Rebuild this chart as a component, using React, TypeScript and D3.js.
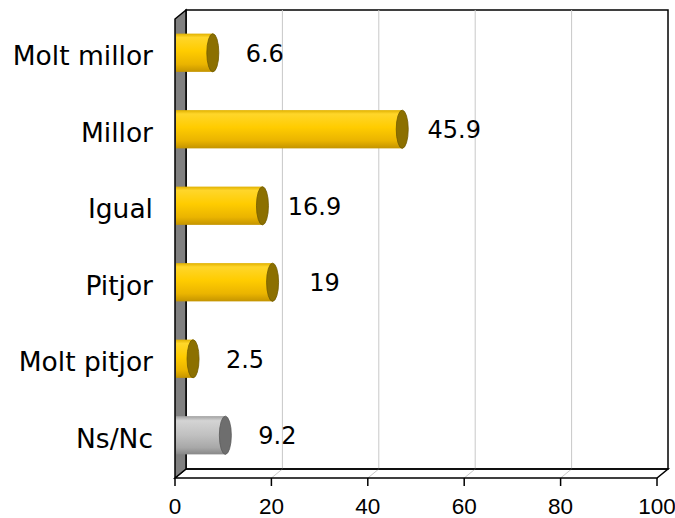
import * as React from "react";
import * as d3 from "d3";

const categories = ["Molt millor", "Millor", "Igual", "Pitjor", "Molt pitjor", "Ns/Nc"];
const values = [6.6, 45.9, 16.9, 19, 2.5, 9.2];
const tickValues = [0, 20, 40, 60, 80, 100];
const gridValues = [20, 40, 60, 80];

function drawChart(svgRef: React.RefObject<SVGSVGElement>) {
  const w = 675;
  const h = 518;
  const svg = d3.select(svgRef.current);
  svg.selectAll("*").remove();
  svg.attr("width", w).attr("height", h);

  // front plane + depth offset
  const x0 = 175;
  const x1 = 657;
  const yTop = 19;
  const yBot = 478;
  const dx = 11;
  const dy = -9;

  const x = d3.scaleLinear().domain([0, 100]).range([x0, x1]);
  const xBar = d3.scaleLinear().domain([0, 100]).range([x0 + 6, x1 + 6]);
  const y = d3
    .scaleBand()
    .domain(categories)
    .range([yTop + dy / 2, yBot + dy / 2])
    .paddingInner(0.5)
    .paddingOuter(0.25);

  const defs = svg.append("defs");
  const grad = (id: string, stops: [number, string][]) => {
    const g = defs
      .append("linearGradient")
      .attr("id", id)
      .attr("x1", 0)
      .attr("y1", 0)
      .attr("x2", 0)
      .attr("y2", 1);
    stops.forEach(([o, c]) => g.append("stop").attr("offset", o).attr("stop-color", c));
  };
  grad("gold", [
    [0, "#e0b000"],
    [0.1, "#ffd62a"],
    [0.45, "#ffcc00"],
    [0.8, "#eab400"],
    [1, "#c49400"],
  ]);
  grad("grey", [
    [0, "#a0a0a0"],
    [0.12, "#d4d4d4"],
    [0.5, "#c0c0c0"],
    [0.82, "#a8a8a8"],
    [1, "#888888"],
  ]);

  // back wall
  svg
    .append("rect")
    .attr("x", x0 + dx)
    .attr("y", yTop + dy)
    .attr("width", x1 - x0)
    .attr("height", yBot - yTop)
    .attr("fill", "#fff")
    .attr("stroke", "#000")
    .attr("stroke-width", 1.5);

  // gridlines on wall and floor
  svg
    .selectAll(".grid")
    .data(gridValues)
    .join("path")
    .attr("d", (v) => `M${x(v)},${yBot} L${x(v) + dx},${yBot + dy} L${x(v) + dx},${yTop + dy}`)
    .attr("fill", "none")
    .attr("stroke", "#c8c8c8")
    .attr("stroke-width", 1);

  // floor
  svg
    .append("path")
    .attr("d", `M${x0},${yBot} L${x0 + dx},${yBot + dy} L${x1 + dx},${yBot + dy} L${x1},${yBot} Z`)
    .attr("fill", "none")
    .attr("stroke", "#000")
    .attr("stroke-width", 1.5);

  // left wall
  svg
    .append("path")
    .attr("d", `M${x0},${yTop} L${x0 + dx},${yTop + dy} L${x0 + dx},${yBot + dy} L${x0},${yBot} Z`)
    .attr("fill", "#808080")
    .attr("stroke", "#000")
    .attr("stroke-width", 1.5);

  // bars (cylinders)
  const bw = y.bandwidth();
  const bars = svg
    .selectAll(".bar")
    .data(values)
    .join("g");
  bars
    .append("rect")
    .attr("x", x0 + 1)
    .attr("y", (v, i) => y(categories[i])!)
    .attr("width", (v) => xBar(v) - x0 - 1)
    .attr("height", bw)
    .attr("fill", (v, i) => (categories[i] === "Ns/Nc" ? "url(#grey)" : "url(#gold)"));
  bars
    .append("ellipse")
    .attr("cx", (v) => xBar(v))
    .attr("cy", (v, i) => y(categories[i])! + bw / 2)
    .attr("rx", 6)
    .attr("ry", bw / 2)
    .attr("fill", (v, i) => (categories[i] === "Ns/Nc" ? "#6e6e6e" : "#8c7000"))
    .attr("stroke", (v, i) => (categories[i] === "Ns/Nc" ? "#5a5a5a" : "#705a00"))
    .attr("stroke-width", 0.8);

  // value labels
  svg
    .selectAll(".val")
    .data(values)
    .join("text")
    .attr("x", (v) => xBar(v) + 52)
    .attr("y", (v, i) => y(categories[i])! + bw / 2 + 1)
    .attr("text-anchor", "middle")
    .attr("dominant-baseline", "central")
    .attr("font-family", "'DejaVu Sans', Verdana, sans-serif")
    .attr("font-size", 24)
    .attr("fill", "#000")
    .text((v) => `${v}`);

  // category labels
  svg
    .selectAll(".cat")
    .data(categories)
    .join("text")
    .attr("x", 153)
    .attr("y", (c) => y(c)! + bw / 2 + 3)
    .attr("text-anchor", "end")
    .attr("dominant-baseline", "central")
    .attr("font-family", "'DejaVu Sans', Verdana, sans-serif")
    .attr("font-size", 26.5)
    .attr("fill", "#000")
    .text((c) => c);

  // x axis ticks
  svg
    .selectAll(".tick")
    .data(tickValues)
    .join("line")
    .attr("x1", (v) => x(v))
    .attr("x2", (v) => x(v))
    .attr("y1", yBot)
    .attr("y2", yBot + 8)
    .attr("stroke", "#000")
    .attr("stroke-width", 1.5);
  svg
    .selectAll(".tlabel")
    .data(tickValues)
    .join("text")
    .attr("x", (v) => x(v))
    .attr("y", 514)
    .attr("text-anchor", "middle")
    .attr("font-family", "'Liberation Sans', Arial, sans-serif")
    .attr("font-size", 22.5)
    .attr("fill", "#000")
    .text((v) => `${v}`);
}

const Chart: React.FunctionComponent = () => {
  const svg = React.useRef<SVGSVGElement>(null);
  React.useEffect(() => {
    drawChart(svg);
  }, [svg]);

  return (
    <div id="chart" style={{ position: "absolute", left: 0, top: 0 }}>
      <svg ref={svg} style={{ display: "block", background: "#fff" }} />
    </div>
  );
};

export default Chart;
